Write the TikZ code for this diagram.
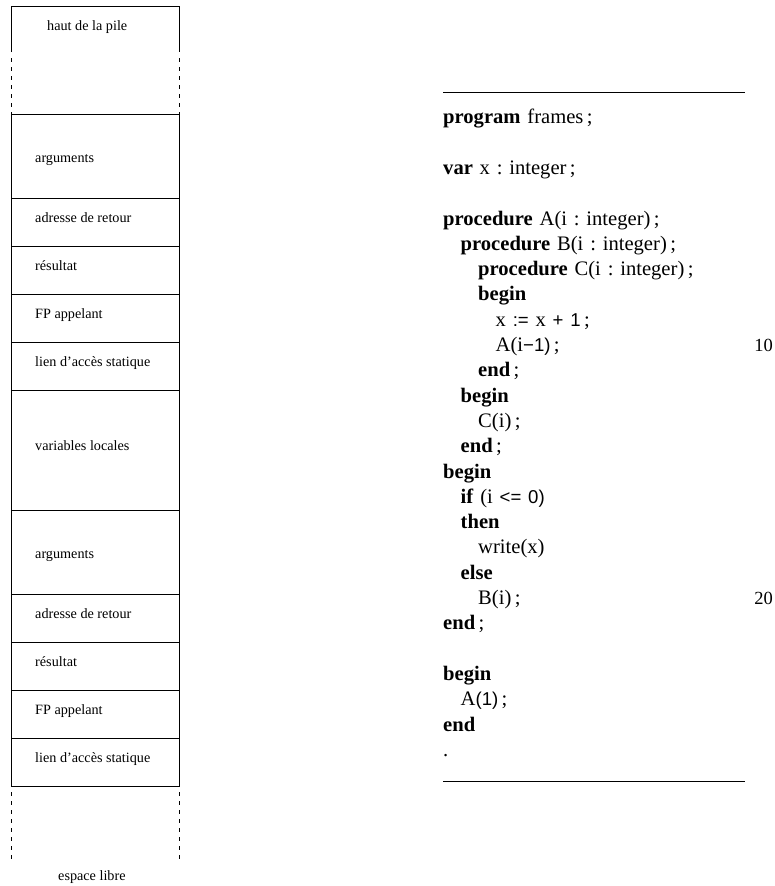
\documentclass[tikz,border=0pt]{standalone}
\usepackage{fontspec}
\setmainfont{Liberation Serif}
\newfontfamily\hsans{Liberation Sans}
\newcommand\kw[1]{\textbf{#1}}
\newcommand\sfn[1]{{\hsans\fontsize{18.6}{22}\selectfont #1}}
\newcommand\ksp{\hspace{0.33em}}
\tikzset{
  frame/.style={draw=black, line width=0.9pt},
  dashframe/.style={draw=black, line width=0.9pt, dash pattern=on 4pt off 5pt},
  lab/.style={font=\fontsize{14.2}{17}\selectfont, anchor=base west, inner sep=0pt},
  code/.style={font=\fontsize{20.6}{25}\selectfont, anchor=base west, inner sep=0pt},
  lnum/.style={font=\fontsize{18.5}{22}\selectfont, anchor=base east, inner sep=0pt},
  rule/.style={draw=black, line width=0.9pt},
}
\begin{document}
\begin{tikzpicture}[x=1pt,y=-1pt]
\useasboundingbox (0,0) rectangle (775,886);
% ---- stack ----
\draw[frame] (11,52) -- (11,6) -- (179,6) -- (179,52);
\draw[dashframe] (11,58) -- (11,114);
\draw[dashframe] (179,58) -- (179,114);
\draw[frame] (11,114) rectangle (179,786);
\foreach \yy in {198,246,294,342,390,510,594,642,690,738}
  \draw[frame] (11,\yy) -- (179,\yy);
\draw[dashframe] (11,792) -- (11,860);
\draw[dashframe] (179,792) -- (179,860);
\node[lab] (top) at (47,30) {haut de la pile};
\node[lab] (arg1) at (35,162) {arguments};
\node[lab] (ret1) at (35,222) {adresse de retour};
\node[lab] (res1) at (35,270) {résultat};
\node[lab] (fp1) at (35,318) {FP appelant};
\node[lab] (sl1) at (35,366) {lien d’accès statique};
\node[lab] (loc) at (35,450) {variables locales};
\node[lab] (arg2) at (35,558) {arguments};
\node[lab] (ret2) at (35,618) {adresse de retour};
\node[lab] (res2) at (35,666) {résultat};
\node[lab] (fp2) at (35,714) {FP appelant};
\node[lab] (sl2) at (35,762) {lien d’accès statique};
\node[lab] (free) at (58,880) {espace libre};
% ---- program ----
\draw[rule] (443,92) -- (745,92);
\draw[rule] (443,781) -- (745,781);
\node[code] (c01) at (443,123.8) {\kw{program}\ksp frames\,;};
\node[code] (c02) at (443,174.4) {\kw{var}\ksp x\ksp:\ksp integer\,;};
\node[code] (c03) at (443,225) {\kw{procedure}\ksp A(i\ksp:\ksp integer)\,;};
\node[code] (c04) at (460.5,250.3) {\kw{procedure}\ksp B(i\ksp:\ksp integer)\,;};
\node[code] (c05) at (478,275.6) {\kw{procedure}\ksp C(i\ksp:\ksp integer)\,;};
\node[code] (c06) at (478,300.9) {\kw{begin}};
\node[code] (c07) at (495.5,326.2) {x\ksp\sfn{:=}\ksp x\ksp\sfn{+}\ksp\sfn{1}\,;};
\node[code] (c08) at (495.5,351.5) {A(i\sfn{−1)}\,;};
\node[lnum] (n10) at (773,351.5) {10};
\node[code] (c09) at (478,376.8) {\kw{end}\,;};
\node[code] (c10) at (460.5,402.1) {\kw{begin}};
\node[code] (c11) at (478,427.4) {C(i)\,;};
\node[code] (c12) at (460.5,452.7) {\kw{end}\,;};
\node[code] (c13) at (443,478) {\kw{begin}};
\node[code] (c14) at (460.5,503.3) {\kw{if}\ksp(i\ksp\sfn{<=}\ksp\sfn{0)}};
\node[code] (c15) at (460.5,528.6) {\kw{then}};
\node[code] (c16) at (478,553.9) {write(x)};
\node[code] (c17) at (460.5,579.2) {\kw{else}};
\node[code] (c18) at (478,604.5) {B(i)\,;};
\node[lnum] (n20) at (773,604.5) {20};
\node[code] (c19) at (443,629.8) {\kw{end}\,;};
\node[code] (c20) at (443,680.4) {\kw{begin}};
\node[code] (c21) at (460.5,705.7) {A\sfn{(1)}\,;};
\node[code] (c22) at (443,731) {\kw{end}};
\node[code] (c23) at (443,756.3) {.};
\end{tikzpicture}
\end{document}
